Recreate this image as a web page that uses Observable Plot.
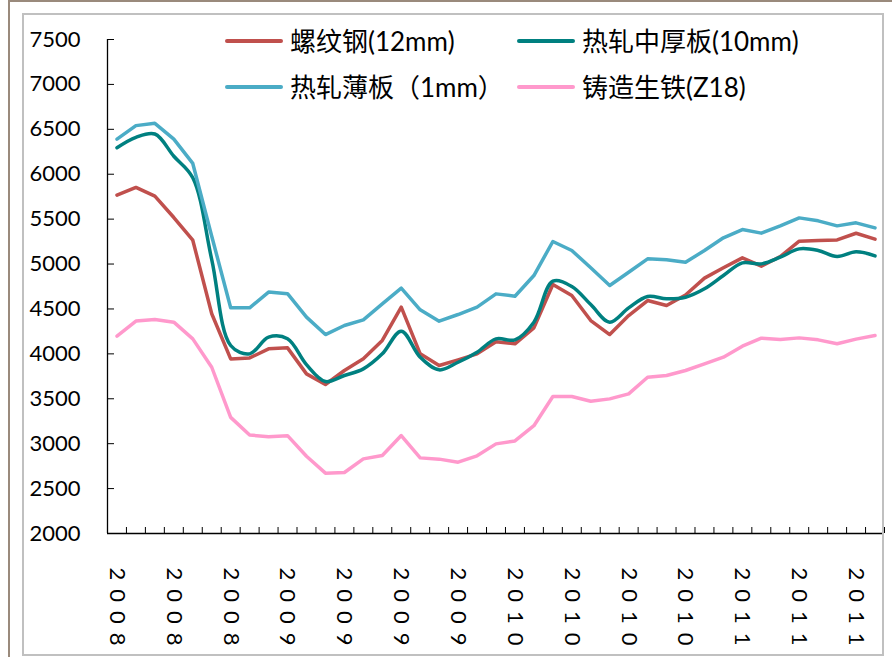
<!DOCTYPE html>
<html><head><meta charset="utf-8">
<script src="https://cdn.jsdelivr.net/npm/d3@7"></script>
<script src="https://cdn.jsdelivr.net/npm/@observablehq/plot@0.6"></script>
<style>
body{margin:0;background:#fff;}
#wrap{position:relative;width:892px;height:657px;overflow:hidden;font-family:Lato,"Noto Sans CJK SC",sans-serif;background:#fff;}
#outer{position:absolute;left:8px;top:0;width:900px;height:700px;border-left:2px solid #9a8a7c;border-top:2px solid #9a8a7c;box-sizing:border-box;pointer-events:none;}
#inner{position:absolute;left:22px;top:13px;width:862px;height:643px;border:2px solid #c0c0c0;box-sizing:border-box;pointer-events:none;}
#chart{position:absolute;left:0;top:0;}
#chart text[transform*="rotate"]{letter-spacing:9px;}
.sw{position:absolute;width:58px;height:4px;border-radius:2px;}
.lt{position:absolute;font-size:26px;line-height:30px;color:#000;white-space:nowrap;}
</style></head>
<body><div id="wrap"><div id="chart"></div><div id="outer"></div><div id="inner"></div><div id="legend"></div></div>
<script>
const months = ["2008-04","2008-05","2008-06","2008-07","2008-08","2008-09","2008-10","2008-11","2008-12",
"2009-01","2009-02","2009-03","2009-04","2009-05","2009-06","2009-07","2009-08","2009-09","2009-10","2009-11","2009-12",
"2010-01","2010-02","2010-03","2010-04","2010-05","2010-06","2010-07","2010-08","2010-09","2010-10","2010-11","2010-12",
"2011-01","2011-02","2011-03","2011-04","2011-05","2011-06","2011-07","2011-08"];
const seriesNames = ["螺纹钢(12mm)","热轧中厚板(10mm)","热轧薄板（1mm）","铸造生铁(Z18)"];
const seriesColors = ["#C0504D","#008080","#4BACC6","#FF99CC"];
const rebar = [5767,5853,5756,5518,5265,4447,3944,3955,4056,4067,3777,3659,3815,3945,4149,4520,4000,3870,3933,4000,4135,4112,4290,4772,4650,4371,4215,4427,4594,4538,4655,4843,4958,5069,4976,5084,5255,5262,5269,5343,5277];
const plate = [6295,6411,6448,6200,5960,5050,4093,4000,4186,4168,3880,3692,3759,3833,4000,4253,3963,3822,3907,4019,4167,4156,4353,4809,4750,4549,4353,4512,4639,4613,4631,4724,4872,5013,5002,5076,5169,5151,5084,5136,5091];
const sheet = [6390,6541,6567,6390,6120,5310,4513,4513,4688,4670,4409,4215,4316,4379,4557,4731,4490,4364,4438,4520,4668,4642,4872,5251,5151,4958,4761,4909,5058,5047,5019,5151,5292,5384,5344,5425,5514,5481,5425,5459,5403];
const pigIron = [4197,4365,4383,4353,4167,3851,3293,3096,3078,3089,2860,2672,2679,2831,2868,3091,2842,2828,2794,2865,2998,3030,3200,3525,3525,3473,3499,3555,3740,3759,3815,3889,3963,4086,4175,4160,4178,4156,4112,4164,4204];
const yTicks = [2000,2500,3000,3500,4000,4500,5000,5500,6000,6500,7000,7500];

const allSeries = [rebar, plate, sheet, pigIron];
const labelIdx = d3.range(0, months.length, 3);
const font = "Lato, 'Noto Sans CJK SC', sans-serif";

const chart = Plot.plot({
  width: 892, height: 655,
  marginLeft: 107, marginRight: 8, marginTop: 39, marginBottom: 122,
  style: {background: "transparent", fontFamily: font, fontSize: "22px", color: "#000", overflow: "hidden"},
  x: {type: "linear", domain: [0, months.length]},
  y: {domain: [2000, 7500]},
  marks: [
    Plot.axisY({ticks: yTicks, tickSize: 0, tickPadding: 27, tickFormat: d => String(d), label: null, fontSize: 22}),
    Plot.axisY({ticks: yTicks, tickSize: 7, dx: 7, text: null, label: null, stroke: "#000"}),
    Plot.axisX({ticks: d3.range(months.length + 1), tickSize: 6, dy: -6, text: null, label: null, stroke: "#000"}),
    Plot.ruleX([0], {stroke: "#000", strokeWidth: 1.3}),
    Plot.ruleY([2000], {stroke: "#000", strokeWidth: 1.3}),
    Plot.text(labelIdx, {x: i => i + 0.5, frameAnchor: "bottom", text: i => months[i], rotate: 90,
      textAnchor: "start", lineAnchor: "middle", dy: 34, fontSize: 22, fill: "#000"}),
    ...allSeries.map((s, k) => Plot.line(s, {x: (d, i) => i + 0.5, y: d => d, stroke: seriesColors[k],
      strokeWidth: 3.5, curve: k === 1 ? "catmull-rom" : "linear"}))
  ]
});
document.getElementById("chart").appendChild(chart);

const legendPos = [[225, 41], [517, 41], [225, 87], [517, 87]];
const lg = d3.select("#legend");
seriesNames.forEach((n, k) => {
  const [lx, ly] = legendPos[k];
  lg.append("div").attr("class", "sw").style("left", lx + "px").style("top", (ly - 2) + "px").style("background", seriesColors[k]);
  lg.append("div").attr("class", "lt").style("left", (lx + 65) + "px").style("top", (ly - 15) + "px").text(n);
});
</script></body></html>
